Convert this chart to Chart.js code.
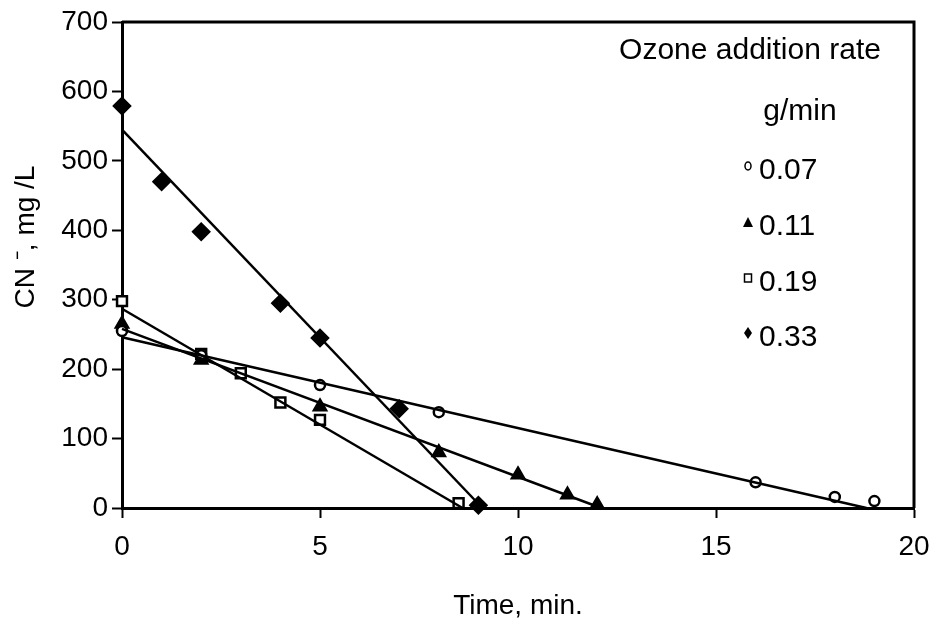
<!DOCTYPE html>
<html>
<head>
<meta charset="utf-8">
<script src="https://cdn.jsdelivr.net/npm/chart.js@4.4.1/dist/chart.umd.min.js"></script>
<style>
  body { margin: 0; background: #fff; }
  #wrap { width: 937px; height: 643px; }
</style>
</head>
<body>
<div id="wrap"><canvas id="cnChart" width="937" height="643"></canvas></div>
<script>
// ozone addition rates, g/min
const rates = ["0.07", "0.11", "0.19", "0.33"];

// measured CN- concentration (mg/L) vs time (min)
const time007 = [0, 2, 5, 8, 16, 18, 19];
const cn007 = [255, 220, 177, 138, 37, 16, 10];

const time011 = [0, 2, 5, 8, 10, 11.25, 12];
const cn011 = [265, 213, 146, 80, 48, 19, 5];

const time019 = [0, 2, 3, 4, 5, 8.5];
const cn019 = [298, 222, 194, 152, 127, 7];

const time033 = [0, 1, 2, 4, 5, 7, 9];
const cn033 = [579, 470, 398, 295, 245, 143, 4];

// fitted lines, start and end
const fitTime = [[0, 18.8], [0, 12.1], [0, 8.6], [0, 9.1]];
const fitCn = [[246, 0], [258, 0], [287, 0], [545, 0]];

const xTicks = [0, 5, 10, 15, 20];
const yTicks = [0, 100, 200, 300, 400, 500, 600, 700];

const FONT = "'Liberation Sans', Arial, sans-serif";

function pairs(xs, ys) {
    return xs.map((x, i) => ({ x: x, y: ys[i] }));
}

const markerStyles = [
    { pointStyle: 'circle', radius: 5, fill: '#fff' },
    { pointStyle: 'triangle', radius: 7, fill: '#000' },
    { pointStyle: 'rect', radius: 7, fill: '#fff' },
    { pointStyle: 'rectRot', radius: 8, fill: '#000' }
];

const series = [
    pairs(time007, cn007),
    pairs(time011, cn011),
    pairs(time019, cn019),
    pairs(time033, cn033)
];

const datasets = [];
fitTime.forEach((xs, i) => {
    datasets.push({
        label: 'fit ' + rates[i],
        data: pairs(xs, fitCn[i]),
        showLine: true,
        borderColor: '#000',
        borderWidth: 2.5,
        pointRadius: 0,
        fill: false,
        clip: false
    });
});
series.forEach((pts, i) => {
    const m = markerStyles[i];
    datasets.push({
        label: rates[i],
        data: pts,
        showLine: false,
        pointStyle: m.pointStyle,
        pointRadius: m.radius,
        pointBackgroundColor: m.fill,
        pointBorderColor: '#000',
        pointBorderWidth: 2.5,
        clip: false
    });
});

// top/right frame, y title and the legend text block
const extras = {
    id: 'extras',
    afterDraw(chart) {
        const ctx = chart.ctx;
        const a = chart.chartArea;
        ctx.save();
        ctx.strokeStyle = '#000';
        ctx.lineWidth = 3;
        ctx.beginPath();
        ctx.moveTo(a.left, a.top);
        ctx.lineTo(a.right, a.top);
        ctx.lineTo(a.right, a.bottom);
        ctx.stroke();

        // y axis title
        ctx.fillStyle = '#000';
        ctx.font = '28px ' + FONT;
        ctx.textAlign = 'center';
        ctx.textBaseline = 'middle';
        ctx.translate(26, 237);
        ctx.rotate(-Math.PI / 2);
        ctx.fillText('CN \u207B, mg /L', 0, 0);
        ctx.restore();

        // legend
        ctx.save();
        ctx.fillStyle = '#000';
        ctx.font = '30px ' + FONT;
        ctx.textBaseline = 'middle';
        ctx.textAlign = 'center';
        ctx.fillText('Ozone addition rate', 750, 51);
        ctx.fillText('g/min', 800, 112);
        ctx.textAlign = 'left';
        const rows = [171, 227, 283, 338];
        rates.forEach((r, i) => {
            const y = rows[i];
            drawMarker(ctx, markerStyles[i].pointStyle, 748, y - 5);
            ctx.fillStyle = '#000';
            ctx.fillText(r, 759, y);
        });
        ctx.restore();
    }
};

function drawMarker(ctx, style, x, y) {
    ctx.save();
    ctx.strokeStyle = '#000';
    ctx.fillStyle = '#000';
    ctx.lineWidth = 1.5;
    ctx.beginPath();
    if (style === 'circle') {
        ctx.ellipse(x, y, 3, 4, 0, 0, Math.PI * 2);
        ctx.stroke();
    } else if (style === 'triangle') {
        ctx.moveTo(x, y - 5);
        ctx.lineTo(x + 5, y + 5);
        ctx.lineTo(x - 5, y + 5);
        ctx.closePath();
        ctx.fill();
    } else if (style === 'rect') {
        ctx.rect(x - 3.5, y - 4, 7, 8);
        ctx.stroke();
    } else {
        ctx.moveTo(x, y - 6);
        ctx.lineTo(x + 4, y);
        ctx.lineTo(x, y + 6);
        ctx.lineTo(x - 4, y);
        ctx.closePath();
        ctx.fill();
    }
    ctx.restore();
}

const ctx = document.getElementById('cnChart').getContext('2d');
const cnChart = new Chart(ctx, {
    type: 'scatter',
    data: { datasets: datasets },
    options: {
        responsive: false,
        animation: false,
        layout: { padding: { top: 22, right: 23, left: 0, bottom: 0 } },
        plugins: {
            legend: { display: false },
            tooltip: { enabled: false }
        },
        scales: {
            x: {
                type: 'linear',
                min: 0,
                max: 20,
                afterFit: s => { s.height = 135; s.paddingRight = 0; s.paddingLeft = 0; },
                afterBuildTicks: s => { s.ticks = xTicks.map(v => ({ value: v })); },
                grid: { drawOnChartArea: false, tickLength: 10, tickColor: '#000', tickWidth: 2 },
                border: { color: '#000', width: 3 },
                ticks: { color: '#000', font: { family: FONT, size: 28 }, padding: 12, maxRotation: 0 },
                title: {
                    display: true,
                    text: 'Time, min.',
                    color: '#000',
                    font: { family: FONT, size: 28 },
                    padding: { top: 22, bottom: 20 }
                }
            },
            y: {
                type: 'linear',
                min: 0,
                max: 700,
                afterFit: s => { s.width = 122; s.paddingTop = 0; s.paddingBottom = 0; },
                afterBuildTicks: s => { s.ticks = yTicks.map(v => ({ value: v })); },
                grid: { drawOnChartArea: false, tickLength: 10, tickColor: '#000', tickWidth: 2 },
                border: { color: '#000', width: 3 },
                ticks: { color: '#000', font: { family: FONT, size: 28 }, padding: 4 }
            }
        }
    },
    plugins: [extras]
});
</script>
</body>
</html>
